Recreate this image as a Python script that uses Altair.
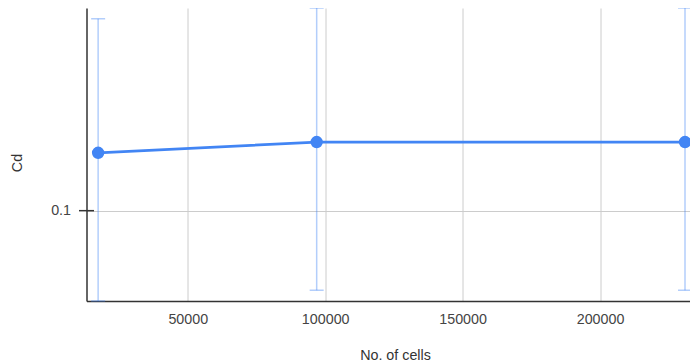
import altair as alt
import pandas as pd

# Data
cells = [17400, 96900, 230900]
cd = [0.1042, 0.1050, 0.1050]
cd_low = [0.09378, 0.0945, 0.0945]
cd_high = [0.11462, 0.1155, 0.1155]
x_ticks = [50000, 100000, 150000, 200000]
y_ticks = [0.1]

df = pd.DataFrame({"cells": cells, "cd": cd, "low": cd_low, "high": cd_high})
tick_df = pd.DataFrame({"v": y_ticks})

BLUE = "#4285F4"
FONT = "Liberation Sans"

xs = alt.Scale(domain=[13164, 232717], nice=False, zero=False)
ys = alt.Scale(type="log", domain=[0.09378, 0.1155], nice=False)

x_axis = alt.Axis(values=x_ticks, title="No. of cells", grid=True, ticks=False,
                  labelPadding=11, titlePadding=22, format="d", titleX=308.5)
y_axis = alt.Axis(values=y_ticks, title="Cd", grid=True, ticks=False,
                  labelPadding=16, format="~g", titleX=-69, titleY=154.5,
                  titleBaseline="middle")

base = alt.Chart(df).encode(x=alt.X("cells:Q", scale=xs, axis=x_axis))

bars = base.mark_rule(color=BLUE, opacity=0.4, strokeWidth=1.5).encode(
    y=alt.Y("low:Q", scale=ys, axis=y_axis), y2="high:Q")
caps_low = base.mark_tick(color=BLUE, opacity=0.4, thickness=1.5, size=14,
                          orient="horizontal").encode(
    y=alt.Y("low:Q", scale=ys, axis=y_axis))
caps_high = base.mark_tick(color=BLUE, opacity=0.4, thickness=1.5, size=14,
                           orient="horizontal").encode(
    y=alt.Y("high:Q", scale=ys, axis=y_axis))
line = base.mark_line(color=BLUE, strokeWidth=2.8).encode(
    y=alt.Y("cd:Q", scale=ys, axis=y_axis))
pts = base.mark_circle(color=BLUE, size=154, opacity=1).encode(
    y=alt.Y("cd:Q", scale=ys, axis=y_axis))
ytick = alt.Chart(tick_df).mark_rule(color="#333333", strokeWidth=1.5).encode(
    y=alt.Y("v:Q", scale=ys, axis=y_axis), x=alt.value(-7.5), x2=alt.value(7.5))

chart = alt.layer(bars, caps_low, caps_high, line, pts, ytick).properties(
    width=603.5, height=293,
    padding={"left": 78.5, "top": 0, "right": 0, "bottom": 62},
    autosize="none",
).configure_view(stroke=None).configure_axis(
    domainColor="#333333", domainWidth=1.5,
    gridColor="#cccccc", gridWidth=1,
    labelColor="#444444", labelFont=FONT, labelFontSize=14.3,
    titleColor="#333333", titleFont=FONT, titleFontSize=14.3, titleFontWeight="normal",
)

chart.save("out.html", embed_options={"renderer": "svg", "actions": False})
